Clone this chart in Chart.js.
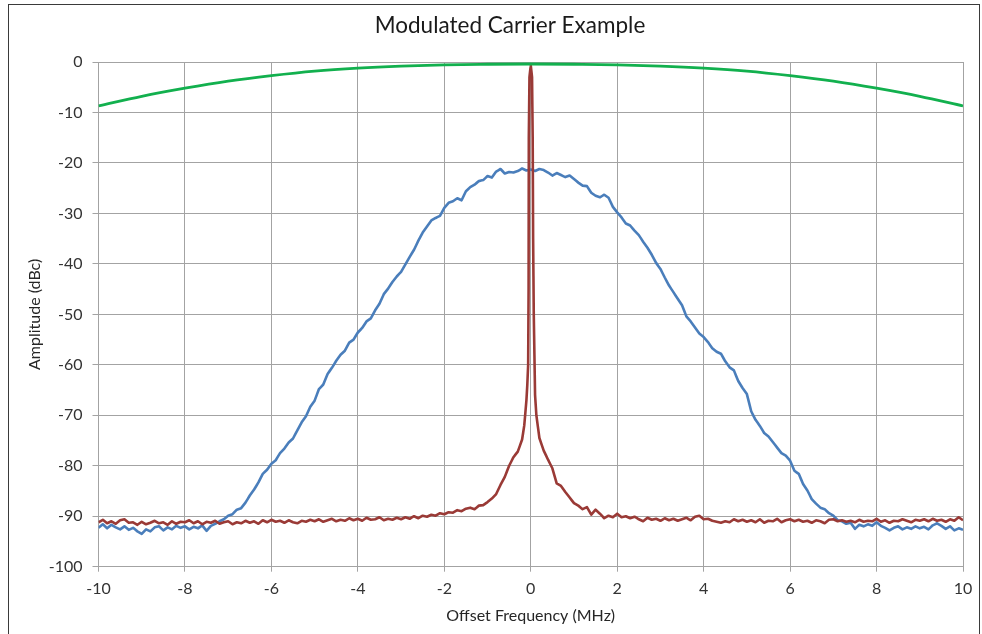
<!DOCTYPE html>
<html><head><meta charset="utf-8">
<script src="https://cdn.jsdelivr.net/npm/chart.js@4.4.1/dist/chart.umd.min.js"></script>
<style>
html,body{margin:0;padding:0;background:#fff;overflow:hidden;}
#wrap{position:relative;width:982px;height:634px;}
#frame{position:absolute;left:8px;top:4px;width:972px;height:700px;border:1.5px solid #3a3a3a;box-sizing:border-box;pointer-events:none;}
canvas{position:absolute;left:0;top:0;}
</style></head><body>
<div id="wrap"><canvas id="c" width="982" height="634"></canvas><div id="frame"></div></div>
<script>
const chartTitle = 'Modulated Carrier Example';
const xAxisTitle = 'Offset Frequency (MHz)';
const yAxisTitle = 'Amplitude (dBc)';
const xTickValues = [-10, -8, -6, -4, -2, 0, 2, 4, 6, 8, 10];
const yTickValues = [0, -10, -20, -30, -40, -50, -60, -70, -80, -90, -100];

// blue & red spectra sampled every 0.1 MHz from -10 to 10 MHz
const freqStart = -10;
const freqStep = 0.1;

const blueAmp = [
 -92.3,-91.6,-92.4,-91.7,-92.2,-92.6,-92.0,-92.7,-92.3,-93.0,
 -93.5,-92.6,-93.0,-92.2,-92.0,-92.8,-92.2,-92.6,-91.9,-92.3,
 -92.0,-92.6,-92.1,-92.4,-91.8,-92.9,-91.9,-91.5,-91.0,-90.6,
 -89.9,-89.6,-88.7,-88.4,-87.3,-85.9,-84.7,-83.3,-81.6,-80.8,
 -79.6,-78.9,-77.5,-76.6,-75.4,-74.6,-73.0,-71.4,-70.2,-68.3,
 -67.1,-64.8,-63.9,-61.8,-60.6,-59.2,-58.0,-57.2,-55.6,-55.0,
 -53.6,-52.7,-51.4,-50.8,-49.2,-47.9,-46.0,-44.9,-43.6,-42.5,
 -41.6,-40.1,-38.6,-37.2,-35.4,-33.8,-32.6,-31.4,-30.9,-30.5,
 -28.9,-27.9,-27.6,-27.0,-27.4,-25.6,-24.8,-24.3,-23.6,-23.4,
 -22.6,-22.9,-21.7,-21.2,-22.1,-21.8,-21.9,-21.6,-21.1,-21.5,
 -21.3,
 -21.6,-21.2,-21.4,-21.9,-22.5,-22.0,-22.4,-22.8,-22.5,-23.2,
 -23.9,-24.5,-24.6,-25.9,-26.5,-26.8,-26.3,-26.9,-28.7,-29.8,
 -30.8,-32.0,-32.4,-33.4,-34.3,-35.6,-36.8,-38.2,-39.8,-41.0,
 -42.7,-44.3,-45.6,-46.9,-48.2,-50.4,-51.4,-52.6,-53.8,-54.5,
 -55.5,-56.7,-57.4,-57.8,-59.3,-60.5,-61.1,-63.2,-64.6,-65.8,
 -69.2,-70.9,-72.1,-73.5,-74.2,-75.3,-76.4,-77.5,-78.0,-79.0,
 -81.0,-81.6,-83.6,-84.9,-86.6,-87.5,-88.3,-88.6,-89.4,-89.9,
 -90.8,-91.0,-91.5,-91.3,-92.5,-91.7,-92.0,-91.6,-91.9,-91.2,
 -91.9,-92.3,-92.8,-92.3,-92.0,-92.6,-92.2,-92.5,-92.0,-92.4,
 -92.1,-92.6,-91.8,-91.4,-91.9,-92.5,-92.0,-92.8,-92.4,-92.7
];

const redAmp = [
 -91.2,-90.7,-91.4,-91.0,-91.5,-90.8,-90.6,-91.3,-91.2,-91.7,
 -91.1,-91.6,-91.3,-90.9,-91.4,-91.2,-91.7,-91.0,-91.5,-91.1,
 -91.2,-90.8,-91.4,-91.0,-91.6,-91.1,-91.3,-90.9,-91.5,-91.2,
 -91.0,-91.6,-91.2,-91.4,-90.9,-91.3,-91.0,-91.5,-90.8,-91.2,
 -90.7,-91.1,-90.9,-91.3,-90.8,-91.2,-91.4,-90.9,-91.1,-90.7,
 -91.0,-90.6,-91.1,-90.8,-90.5,-91.0,-90.7,-90.9,-90.4,-90.8,
 -90.5,-90.9,-90.3,-90.7,-90.6,-90.2,-90.8,-90.5,-90.7,-90.3,
 -90.6,-90.2,-90.5,-90.0,-90.4,-89.9,-90.1,-89.7,-89.9,-89.4,
 -89.6,-89.2,-89.3,-88.8,-89.0,-88.5,-88.3,-88.6,-87.9,-87.8,
 -87.2,-86.5,-85.6,-83.8,-82.2,-80.0,-78.3,-77.2,-74.8,-67.0,
 -0.6,
 -66.0,-74.5,-77.0,-78.8,-80.5,-83.5,-84.0,-85.2,-86.3,-87.4,
 -87.9,-88.6,-88.2,-89.7,-88.7,-89.5,-90.4,-89.9,-90.2,-89.5,
 -90.2,-90.0,-90.4,-90.1,-90.6,-91.0,-90.3,-90.7,-90.5,-90.9,
 -90.4,-90.8,-90.5,-90.9,-90.6,-90.3,-90.8,-90.1,-89.9,-90.6,
 -90.5,-90.9,-91.1,-91.3,-91.0,-91.2,-90.6,-91.0,-90.7,-91.1,
 -90.8,-91.2,-90.6,-91.3,-90.9,-91.0,-90.5,-91.2,-90.8,-90.6,
 -91.0,-90.7,-91.1,-90.9,-91.3,-90.8,-91.0,-91.4,-90.7,-90.6,
 -91.0,-90.8,-91.1,-90.9,-91.2,-90.7,-91.1,-90.9,-91.0,-90.5,
 -91.1,-90.8,-91.3,-90.9,-91.0,-90.6,-90.9,-91.2,-90.7,-90.9,
 -90.6,-91.0,-90.5,-90.9,-90.7,-91.1,-90.6,-90.9,-90.2,-90.8
];

// carrier peak, finer sampling around 0 MHz
const peakFreq = [-0.15, -0.08, -0.06, -0.05, -0.045, -0.03, 0, 0.03, 0.045, 0.055, 0.07, 0.085, 0.13];
const peakAmp  = [-72.0, -64, -60, -45, -15, -3, -0.6, -3, -15, -35, -50, -58, -70];

// filter / envelope response (green)
const greenFreq = [-10, -9, -8, -7, -6, -5, -4, -3, -2, -1, 0, 1, 2, 3, 4, 5, 6, 7, 8, 9, 10];
const greenAmp  = [-8.7, -6.8, -5.2, -3.8, -2.7, -1.8, -1.2, -0.8, -0.55, -0.45, -0.4, -0.45, -0.55, -0.8, -1.2, -1.8, -2.7, -3.8, -5.2, -6.8, -8.7];

const gridFreq = i => Math.round((freqStart + i * freqStep) * 100) / 100;
const bluePts = blueAmp.map((v, i) => ({x: gridFreq(i), y: v}));
const redPts = redAmp.map((v, i) => ({x: gridFreq(i), y: v}))
  .filter(p => Math.abs(p.x) > 0.095)
  .concat(peakFreq.map((f, i) => ({x: f, y: peakAmp[i]})))
  .sort((a, b) => a.x - b.x);
const greenPts = greenFreq.map((f, i) => ({x: f, y: greenAmp[i]}));

const FONT = 'Lato';
const gridColor = '#a3a3a3';

const titlePlugin = {
  id: 'customTitle',
  afterDraw(chart) {
    const ctx = chart.ctx;
    ctx.save();
    ctx.font = '22.5px ' + FONT;
    ctx.fillStyle = '#1a1a1a';
    ctx.textAlign = 'center';
    ctx.textBaseline = 'middle';
    ctx.fillText(chartTitle, 510, 26);
    ctx.restore();
  }
};

new Chart(document.getElementById('c'), {
  type: 'scatter',
  data: {
    datasets: [
      {label: 'Filter', data: greenPts, showLine: true, borderColor: '#12b04e', borderWidth: 2.8, pointRadius: 0, cubicInterpolationMode: 'monotone'},
      {label: 'Carrier', data: redPts, showLine: true, borderColor: '#9a3a36', borderWidth: 2.6, pointRadius: 0, tension: 0.0001, borderJoinStyle: 'round'},
      {label: 'Modulated', data: bluePts, showLine: true, borderColor: '#4a7ebb', borderWidth: 2.6, pointRadius: 0, tension: 0.0001, borderJoinStyle: 'round'}
    ]
  },
  options: {
    responsive: false,
    animation: false,
    devicePixelRatio: 1,
    layout: {padding: {left: 0, right: 19, top: 62, bottom: 0}},
    plugins: {legend: {display: false}, tooltip: {enabled: false}, title: {display: false}},
    scales: {
      x: {
        type: 'linear', min: -10, max: 10,
        afterBuildTicks: s => { s.ticks = xTickValues.map(v => ({value: v})); },
        afterFit: s => { s.height = 634 - 566.7; },
        ticks: {font: {family: FONT, size: 16}, color: '#333333', padding: 7.5},
        grid: {color: gridColor, lineWidth: 1, tickLength: 5, tickColor: gridColor},
        border: {color: gridColor, width: 1},
        title: {display: true, text: xAxisTitle, font: {family: FONT, size: 16}, color: '#262626', padding: {top: 0, bottom: 8.5}}
      },
      y: {
        type: 'linear', min: -100, max: 0,
        afterBuildTicks: s => { s.ticks = yTickValues.map(v => ({value: v})); },
        afterFit: s => { s.width = 98.5; },
        ticks: {font: {family: FONT, size: 16}, color: '#333333', padding: 10},
        grid: {color: gridColor, lineWidth: 1, tickLength: 6, tickColor: gridColor},
        border: {color: gridColor, width: 1},
        title: {display: true, text: yAxisTitle, font: {family: FONT, size: 16}, color: '#262626', padding: {top: 25, bottom: 0}}
      }
    }
  },
  plugins: [titlePlugin]
});
</script>
</body></html>
